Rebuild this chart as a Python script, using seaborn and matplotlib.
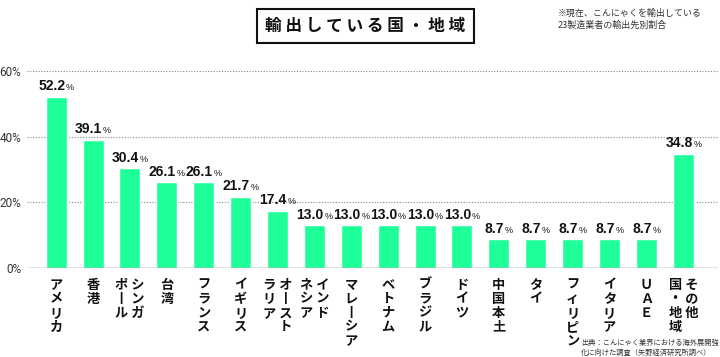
import matplotlib
matplotlib.use("Agg")
import matplotlib.pyplot as plt
import seaborn as sns
import pandas as pd
from matplotlib.offsetbox import TextArea, HPacker, AnnotationBbox

# ---- data ----
categories = ["アメリカ", "香港", "シンガ/ポール", "台湾", "フランス", "イギリス",
              "オースト/ラリア", "インド/ネシア", "マレーシア", "ベトナム", "ブラジル",
              "ドイツ", "中国本土", "タイ", "フィリピン", "イタリア", "UAE", "その他/国・地域"]
values = [52.2, 39.1, 30.4, 26.1, 26.1, 21.7, 17.4, 13.0, 13.0, 13.0, 13.0,
          13.0, 8.7, 8.7, 8.7, 8.7, 8.7, 34.8]
yticks = [0, 20, 40, 60]
ytick_labels = ["0%", "20%", "40%", "60%"]
title = "輸出している国・地域"
note = "※現在、こんにゃくを輸出している\n23製造業者の輸出先別割合"
source = "出典：こんにゃく業界における海外展開強\n化に向けた調査（矢野経済研究所調べ）"

BAR = "#1EFF9A"
JP = ["Noto Sans CJK JP", "DejaVu Sans"]

sns.set_theme(style="white")
plt.rcParams["font.family"] = JP

FW = {"U": "Ｕ", "A": "Ａ", "E": "Ｅ"}


def vertical(label):
    cols = [[FW.get(c, "丨" if c == "ー" else c) for c in part] for part in label.split("/")]
    n = max(len(c) for c in cols)
    cols = [c + ["　"] * (n - len(c)) for c in cols]
    lines = [" ".join(col[k] for col in reversed(cols)) for k in range(n)]
    return "\n".join(lines)


df = pd.DataFrame({"cat": categories, "val": values})

fig = plt.figure(figsize=(7.2, 3.57), dpi=100)
ax = fig.add_axes([27 / 720, 1 - 268 / 357, (718 - 27) / 720, (268 - 71) / 357])
sns.barplot(data=df, x="cat", y="val", color=BAR, saturation=1, width=0.57, ax=ax)

ax.set_xlim(-0.79, 17.94)
ax.set_ylim(0, 60)
for s in ax.spines.values():
    s.set_visible(False)
ax.set_xlabel("")
ax.set_ylabel("")

for y in yticks[1:]:
    ax.axhline(y, color="#888888", lw=0.8, ls=(0, (1, 1.5)), zorder=0)
ax.axhline(0, color="#777777", lw=1.0, zorder=3)

ax.set_yticks(yticks, labels=ytick_labels)
ax.tick_params(axis="y", length=0, pad=4, labelsize=8.5, labelcolor="#333333")
for t in ax.get_yticklabels():
    t.set_family(["Roboto", "DejaVu Sans"])

ax.set_xticks(range(len(categories)), labels=[vertical(c) for c in categories])
ax.tick_params(axis="x", length=0, pad=7)
for t in ax.get_xticklabels():
    t.set_fontsize(9.5)
    t.set_fontweight("bold")
    t.set_linespacing(1.0)
    t.set_color("#111111")
    t.set_va("top")

for i, v in enumerate(values):
    num = TextArea(f"{v:.1f}", textprops=dict(fontsize=10, fontweight="bold", color="#111111",
                                              family=["Liberation Sans", "DejaVu Sans"]))
    pct = TextArea("%", textprops=dict(fontsize=6.5, color="#111111",
                                       family=["Liberation Sans", "DejaVu Sans"]))
    box = HPacker(children=[num, pct], align="baseline", pad=0, sep=0.5)
    ab = AnnotationBbox(box, (i, v), xybox=(0, 2.5), xycoords="data", boxcoords="offset points",
                        box_alignment=(0.5, 0), frameon=False, pad=0)
    ax.add_artist(ab)

fig.text(365.5 / 720, 1 - 26 / 357, " ".join(title), ha="center", va="center",
         fontsize=12, fontweight="bold", color="#111111",
         bbox=dict(boxstyle="square,pad=0.5", fc="white", ec="#111111", lw=1.5))
fig.text(558 / 720, 1 - 9 / 357, note, ha="left", va="top", fontsize=6.5, color="#333333",
         linespacing=1.3)
fig.text(581 / 720, 1 - 339 / 357, source, ha="left", va="top", fontsize=5.2, color="#333333",
         linespacing=1.25)

fig.savefig("out.png", dpi=100, facecolor="white")
